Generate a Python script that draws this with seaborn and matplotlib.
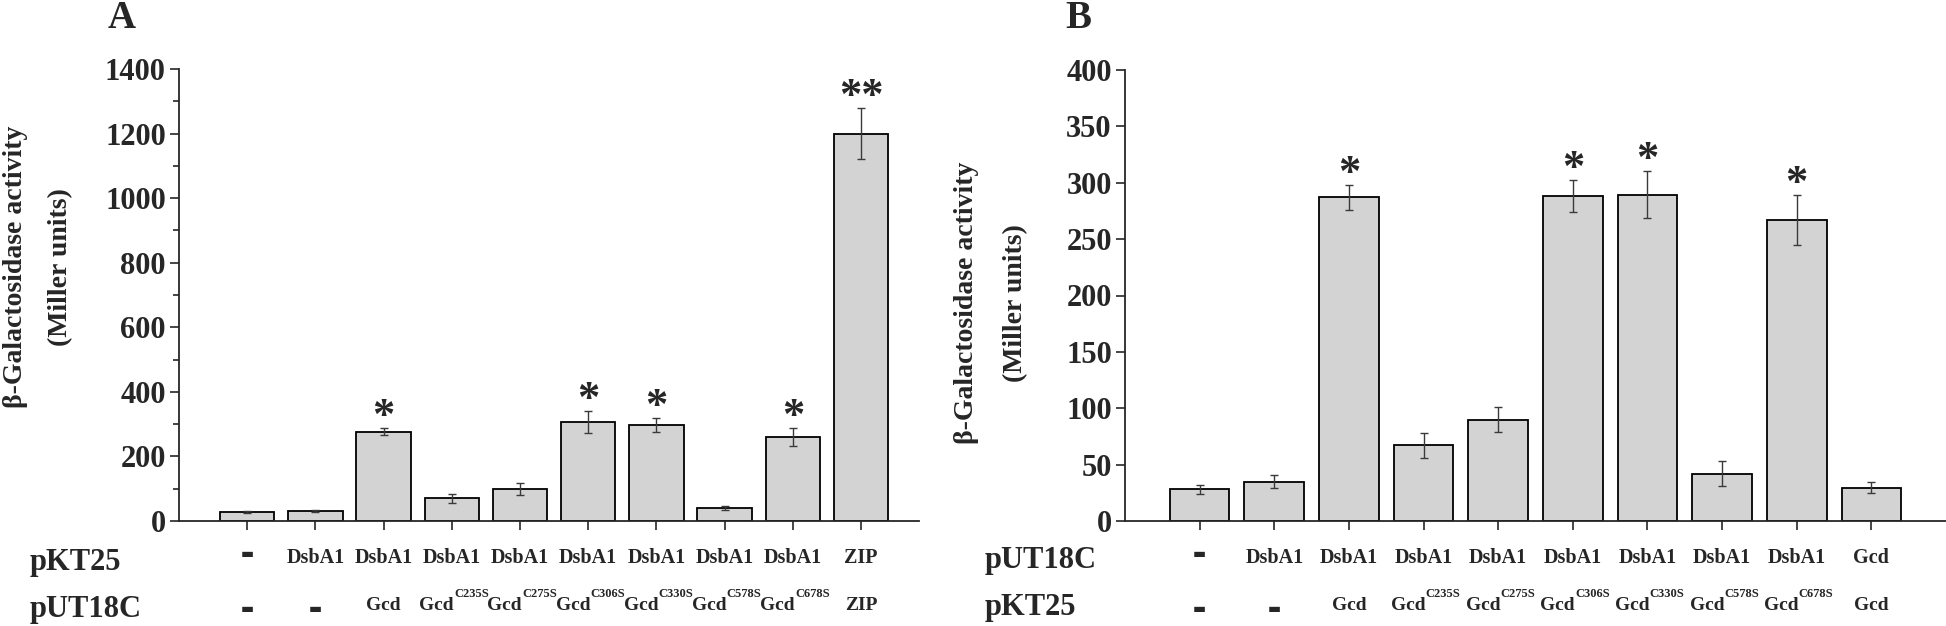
import matplotlib
matplotlib.use("Agg")
import matplotlib.pyplot as plt
from matplotlib.ticker import MultipleLocator
import numpy as np
import pandas as pd
import seaborn as sns

# panel A: pKT25 x pUT18C
a_values = [28, 31, 277, 70, 99, 307, 298, 41, 259, 1200]
a_errors = [2, 2, 11, 13, 20, 35, 21, 7, 28, 80]
a_stars = ["", "", "*", "", "", "*", "*", "", "*", "**"]
a_row1 = ["-", "DsbA1", "DsbA1", "DsbA1", "DsbA1", "DsbA1", "DsbA1", "DsbA1", "DsbA1", "ZIP"]
a_row2 = ["-", "-", "Gcd", "Gcd", "Gcd", "Gcd", "Gcd", "Gcd", "Gcd", "ZIP"]
a_row2_sup = ["", "", "", "C235S", "C275S", "C306S", "C330S", "C578S", "C678S", ""]

# panel B: pUT18C x pKT25
b_values = [28, 35, 287, 67, 90, 288, 289.5, 42, 267, 29.5]
b_errors = [4, 6, 11, 11, 11, 14, 21, 11, 22, 5]
b_stars = ["", "", "*", "", "", "*", "*", "", "*", ""]
b_row1 = ["-", "DsbA1", "DsbA1", "DsbA1", "DsbA1", "DsbA1", "DsbA1", "DsbA1", "DsbA1", "Gcd"]
b_row2 = ["-", "-", "Gcd", "Gcd", "Gcd", "Gcd", "Gcd", "Gcd", "Gcd", "Gcd"]
b_row2_sup = ["", "", "", "C235S", "C275S", "C306S", "C330S", "C578S", "C678S", ""]

sns.set_style("ticks")
plt.rcParams["font.family"] = ["Liberation Serif", "DejaVu Sans"]
plt.rcParams["font.weight"] = "bold"

W, H = 1946, 626
fig = plt.figure(figsize=(W / 100, H / 100), dpi=100)

def px(x0, y0, x1, y1):
    return [x0 / W, 1 - y1 / H, (x1 - x0) / W, (y1 - y0) / H]

ax1 = fig.add_axes(px(179, 69, 919, 521))
ax2 = fig.add_axes(px(1125, 70, 1946, 521))


def panel(ax, values, errors, stars, row1, row2, row2_sup, ymax, major, minor, xmax):
    df = pd.DataFrame({"pos": [str(i) for i in range(len(values))], "value": values})
    sns.barplot(data=df, x="pos", y="value", ax=ax, color="#d3d3d3", saturation=1,
                edgecolor="black", linewidth=1.3, width=0.8, errorbar=None)
    xs = [p.get_x() + p.get_width() / 2 for p in ax.patches]
    ax.errorbar(xs, values, yerr=errors, fmt="none", ecolor="#3a3a3a",
                elinewidth=1.0, capsize=3.2, capthick=1.0)
    for x, v, e, s in zip(xs, values, errors, stars):
        if s:
            ax.annotate(s, (x, v + e), xytext=(0, 0), textcoords="offset points",
                        ha="center", va="baseline", fontsize=32, fontweight="bold")
    ax.set_xlim(-1, xmax)
    ax.set_ylim(0, ymax)
    ax.yaxis.set_major_locator(MultipleLocator(major))
    if minor:
        ax.yaxis.set_minor_locator(MultipleLocator(minor))
    ax.set_xlabel("")
    ax.set_ylabel("")
    ax.set_xticks(xs)
    ax.set_xticklabels([])
    ax.tick_params(axis="both", which="major", direction="out", length=6.5, width=1.2,
                   labelsize=22, pad=3)
    ax.tick_params(axis="y", which="minor", direction="out", length=4, width=1.2)
    for lab in ax.get_yticklabels():
        lab.set_fontweight("bold")
    sns.despine(ax=ax)
    for sp in ["left", "bottom"]:
        ax.spines[sp].set_linewidth(1.3)
    tr = ax.get_xaxis_transform()
    for x, t in zip(xs, row1):
        if t == "-":
            ax.text(x, -0.073, "\u25ac", transform=tr, ha="center", va="center",
                    fontsize=10, family="DejaVu Sans", clip_on=False)
        else:
            ax.text(x, -0.093, t, transform=tr, ha="center", va="baseline",
                    fontsize=14.5, fontweight="bold", clip_on=False)
    for x, t, sup in zip(xs, row2, row2_sup):
        if t == "-":
            ax.text(x, -0.195, "\u25ac", transform=tr, ha="center", va="center",
                    fontsize=10, family="DejaVu Sans", clip_on=False)
        elif sup:
            ax.annotate(t, (x, -0.197), xycoords=tr, xytext=(1.5, 0), textcoords="offset points",
                        ha="right", va="baseline", fontsize=14, fontweight="bold",
                        annotation_clip=False)
            ax.annotate(sup, (x, -0.197), xycoords=tr, xytext=(1.5, 9.5), textcoords="offset points",
                        ha="left", va="baseline", fontsize=9, fontweight="bold",
                        annotation_clip=False)
        else:
            ax.text(x, -0.197, t, transform=tr, ha="center", va="baseline",
                    fontsize=14, fontweight="bold", clip_on=False)


panel(ax1, a_values, a_errors, a_stars, a_row1, a_row2, a_row2_sup, 1400, 200, 100, 9.85)
panel(ax2, b_values, b_errors, b_stars, b_row1, b_row2, b_row2_sup, 400, 50, None, 10)

ylab = "\u03b2-Galactosidase activity\n(Miller units)"
fig.text(38 / W, 1 - 267 / H, ylab, rotation=90, ha="center", va="center",
         multialignment="center", fontsize=20, fontweight="bold", linespacing=2.05)
fig.text(991 / W, 1 - 303 / H, ylab, rotation=90, ha="center", va="center",
         multialignment="center", fontsize=20, fontweight="bold", linespacing=2.25)

fig.text(122 / W, 1 - 18 / H, "A", ha="center", va="center", fontsize=28, fontweight="bold")
fig.text(1078 / W, 1 - 18 / H, "B", ha="center", va="center", fontsize=28, fontweight="bold")

fig.text(30 / W, 1 - 570 / H, "pKT25", ha="left", va="baseline", fontsize=22, fontweight="bold")
fig.text(30 / W, 1 - 617 / H, "pUT18C", ha="left", va="baseline", fontsize=22, fontweight="bold")
fig.text(985 / W, 1 - 568 / H, "pUT18C", ha="left", va="baseline", fontsize=22, fontweight="bold")
fig.text(985 / W, 1 - 615 / H, "pKT25", ha="left", va="baseline", fontsize=22, fontweight="bold")

fig.savefig("out.png", dpi=100)
